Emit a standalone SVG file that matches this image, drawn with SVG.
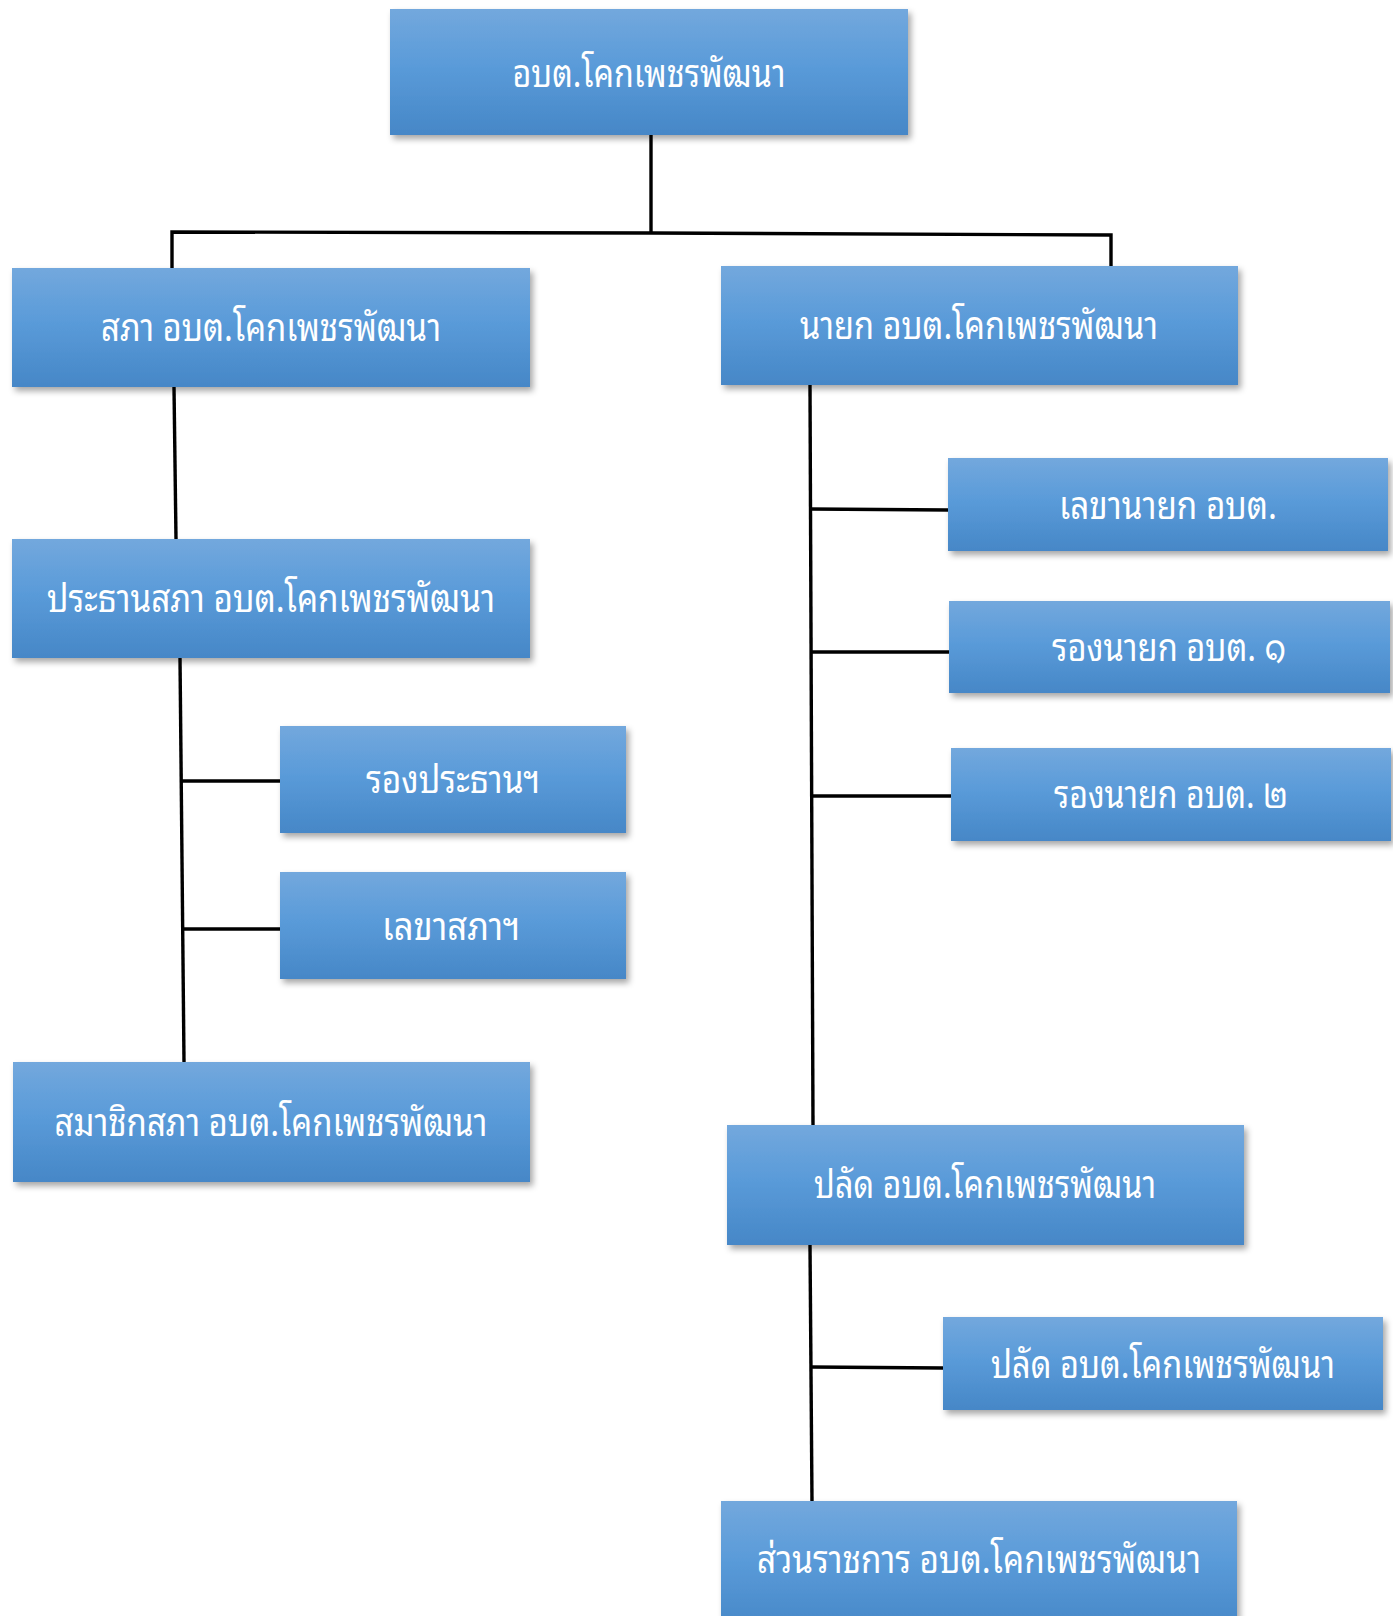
<svg xmlns="http://www.w3.org/2000/svg" width="1393" height="1616" viewBox="0 0 1393 1616">
<defs>
<linearGradient id="g" x1="0" y1="0" x2="0" y2="1">
<stop offset="0" stop-color="#73a8dd"/>
<stop offset="0.45" stop-color="#5a9bd9"/>
<stop offset="1" stop-color="#4687c7"/>
</linearGradient>
<filter id="sh" x="-5%" y="-10%" width="115%" height="130%">
<feDropShadow dx="3" dy="4" stdDeviation="3" flood-color="#000" flood-opacity="0.35"/>
</filter>
</defs>
<style>
.box{fill:url(#g);filter:url(#sh)}
.t{fill:#fff;font-family:"Noto Sans Thai Looped","Noto Sans Thai","Noto Sans Thai UI","Leelawadee UI",Tahoma,"Noto Sans",sans-serif;font-size:39px;text-anchor:middle}
.c{fill:none;stroke:#000;stroke-width:3.4}
</style>
<rect width="1393" height="1616" fill="#fff"/>
<g id="connectors">
<path class="c" d="M651,135 L651,233"/>
<path class="c" d="M172,268 L172,232 L651,233 L1111,235 L1111,266"/>
<path class="c" d="M174,387 L176,539"/>
<path class="c" d="M180,658 L184,1062"/>
<path class="c" d="M181,781 L280,781"/>
<path class="c" d="M182,929 L280,929"/>
<path class="c" d="M810,385 L813,1125"/>
<path class="c" d="M810,509 L948,510"/>
<path class="c" d="M811,652 L950,652"/>
<path class="c" d="M812,796 L952,796"/>
<path class="c" d="M810,1245 L812,1501"/>
<path class="c" d="M811,1367 L943,1368"/>
</g>
<g id="n-top"><rect class="box" x="390" y="9" width="518" height="126"/><text class="t" x="649" y="87" textLength="273" lengthAdjust="spacingAndGlyphs">อบต.โคกเพชรพัฒนา</text></g>
<g id="n-sapha"><rect class="box" x="12" y="268" width="518" height="119"/><text class="t" x="271" y="341" textLength="340" lengthAdjust="spacingAndGlyphs">สภา อบต.โคกเพชรพัฒนา</text></g>
<g id="n-nayok"><rect class="box" x="721" y="266" width="517" height="119"/><text class="t" x="979" y="339" textLength="358" lengthAdjust="spacingAndGlyphs">นายก อบต.โคกเพชรพัฒนา</text></g>
<g id="n-prathan"><rect class="box" x="12" y="539" width="518" height="119"/><text class="t" x="271" y="612" textLength="448" lengthAdjust="spacingAndGlyphs">ประธานสภา อบต.โคกเพชรพัฒนา</text></g>
<g id="n-rongprathan"><rect class="box" x="280" y="726" width="346" height="107"/><text class="t" x="453" y="793" textLength="174" lengthAdjust="spacingAndGlyphs">รองประธานฯ</text></g>
<g id="n-lekhasapha"><rect class="box" x="280" y="872" width="346" height="107"/><text class="t" x="451" y="940" textLength="138" lengthAdjust="spacingAndGlyphs">เลขาสภาฯ</text></g>
<g id="n-samachik"><rect class="box" x="13" y="1062" width="517" height="120"/><text class="t" x="271" y="1136" textLength="433" lengthAdjust="spacingAndGlyphs">สมาชิกสภา อบต.โคกเพชรพัฒนา</text></g>
<g id="n-lekhanayok"><rect class="box" x="948" y="458" width="440" height="93"/><text class="t" x="1168" y="519" textLength="218" lengthAdjust="spacingAndGlyphs">เลขานายก อบต.</text></g>
<g id="n-rongnayok1"><rect class="box" x="949" y="601" width="441" height="92"/><text class="t" x="1169" y="661" textLength="234" lengthAdjust="spacingAndGlyphs">รองนายก อบต. ๑</text></g>
<g id="n-rongnayok2"><rect class="box" x="951" y="748" width="440" height="93"/><text class="t" x="1171" y="808" textLength="234" lengthAdjust="spacingAndGlyphs">รองนายก อบต. ๒</text></g>
<g id="n-palat"><rect class="box" x="727" y="1125" width="517" height="120"/><text class="t" x="985" y="1198" textLength="342" lengthAdjust="spacingAndGlyphs">ปลัด อบต.โคกเพชรพัฒนา</text></g>
<g id="n-palat2"><rect class="box" x="943" y="1317" width="440" height="93"/><text class="t" x="1163" y="1378" textLength="344" lengthAdjust="spacingAndGlyphs">ปลัด อบต.โคกเพชรพัฒนา</text></g>
<g id="n-suanrachakan"><rect class="box" x="721" y="1501" width="516" height="130"/><text class="t" x="979" y="1573" textLength="444" lengthAdjust="spacingAndGlyphs">ส่วนราชการ อบต.โคกเพชรพัฒนา</text></g>
</svg>
